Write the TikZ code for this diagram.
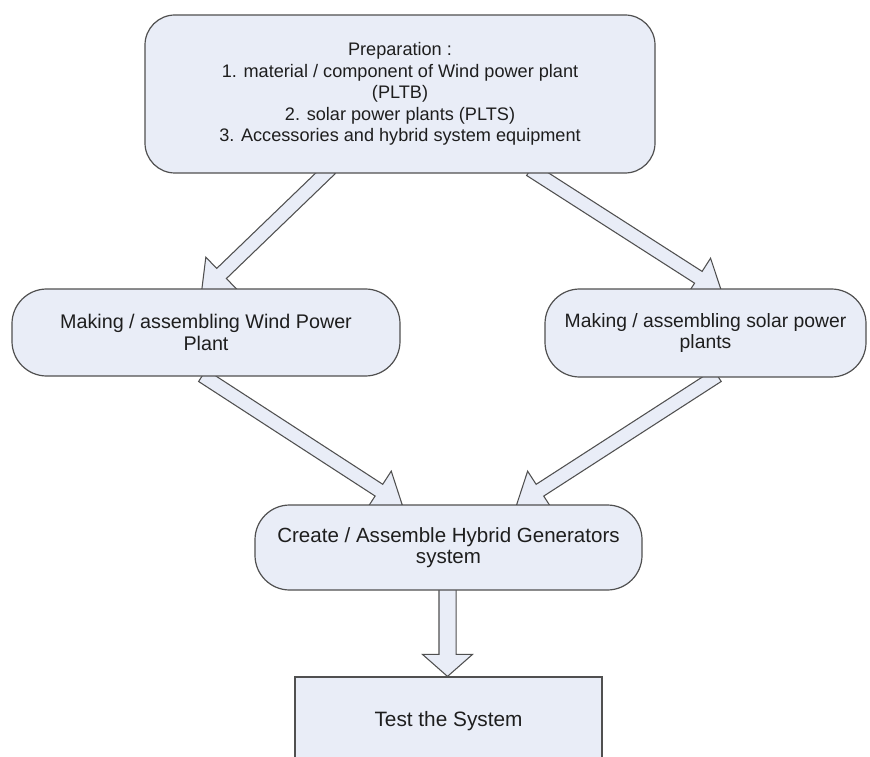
\documentclass[tikz,border=0pt]{standalone}
\usepackage{fontspec}
\setmainfont{Liberation Sans}
\usetikzlibrary{calc}
\pgfdeclarelayer{bg}
\pgfsetlayers{bg,main}
\definecolor{boxfill}{RGB}{233,237,247}
\definecolor{boxline}{RGB}{80,80,80}
\definecolor{txtcol}{RGB}{30,30,30}
\tikzset{
  flowbox/.style={draw=boxline, line width=0.9pt, fill=boxfill, text=txtcol,
    align=center, inner sep=0pt, font=\fontsize{14.8}{16.1}\selectfont},
  blockarrow/.style={draw=boxline, line width=0.8pt, fill=boxfill, line join=miter},
}
\newcommand\blockarr[5]{%
  \coordinate (ba-base) at ($(#2)!#5!(#1)$);
  \draw[blockarrow] ($(#1)!#3!90:(#2)$) -- ($(ba-base)!#3!90:(#2)$)
    -- ($(ba-base)!#4!90:(#2)$) -- (#2) -- ($(ba-base)!#4!-90:(#2)$)
    -- ($(ba-base)!#3!-90:(#2)$) -- ($(#1)!#3!-90:(#2)$) -- cycle;}
\begin{document}
\begin{tikzpicture}[x=0.75pt,y=-0.75pt]
\useasboundingbox (0,0) rectangle (870,756);
\node[flowbox, rounded corners=22.5pt, minimum width=382.5pt, minimum height=118.5pt,
  font=\fontsize{13.6}{16.1}\selectfont] (prep) at (400,94)
  {\raisebox{-3pt}{\parbox{360pt}{\centering Preparation :\\1. material / component of Wind power plant\\(PLTB)\\2. solar power plants (PLTS)\\3. Accessories and hybrid system equipment}}};
\node[flowbox, rounded corners=26pt, minimum width=291pt, minimum height=65.25pt] (wind) at (206,332.5)
  {Making / assembling Wind Power\\Plant};
\node[flowbox, rounded corners=26pt, minimum width=240.75pt, minimum height=66pt,
  font=\fontsize{14.5}{16.1}\selectfont] (solar) at (705.5,333)
  {Making / assembling solar power\\plants};
\node[flowbox, rounded corners=26pt, minimum width=290.25pt, minimum height=63.75pt,
  font=\fontsize{15.4}{16.1}\selectfont] (hybrid) at (448.5,547.5)
  {Create / Assemble Hybrid Generators\\system};
\node[flowbox, minimum width=230.25pt, minimum height=69.75pt,
  font=\fontsize{15.6}{16.1}\selectfont] (test) at (448.5,723.5)
  {\raisebox{6.4pt}{Test the System}};
\coordinate (a1s) at ($(prep.south west)+(186,-5)$);
\coordinate (a1e) at ($(wind.north west)+(190,4.5)$);
\coordinate (a2s) at ($(prep.south west)+(386,-4)$);
\coordinate (a2e) at ($(solar.north west)+(177.5,4)$);
\coordinate (a3s) at ($(wind.south west)+(191,-1)$);
\coordinate (a3e) at ($(hybrid.north west)+(148,1)$);
\coordinate (a4s) at ($(solar.south west)+(173,-2)$);
\coordinate (a4e) at ($(hybrid.north west)+(262,1)$);
\coordinate (a5s) at ($(hybrid.south)+(-1,-5)$);
\coordinate (a5e) at ($(test.north)+(-1,0)$);
\begin{pgfonlayer}{bg}
\blockarr{a1s}{a1e}{5.25pt}{17pt}{21pt}
\blockarr{a2s}{a2e}{5.25pt}{17pt}{21pt}
\blockarr{a3s}{a3e}{5.25pt}{17pt}{21pt}
\blockarr{a4s}{a4e}{5.25pt}{17pt}{21pt}
\blockarr{a5s}{a5e}{6.4pt}{18.75pt}{16.5pt}
\end{pgfonlayer}
\end{tikzpicture}
\end{document}
